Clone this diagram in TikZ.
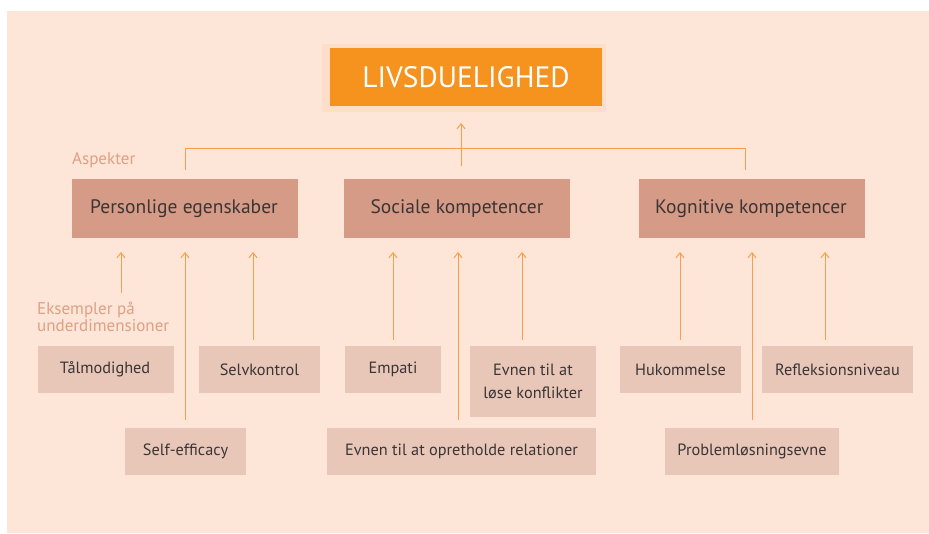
\documentclass[tikz,border=0pt]{standalone}
\usepackage{fontspec}
\setmainfont{PT Sans}
\usetikzlibrary{arrows.meta}
\definecolor{bgpeach}{HTML}{FDE5D8}
\definecolor{titleor}{HTML}{F5931E}
\definecolor{aspbox}{HTML}{D69B86}
\definecolor{subbox}{HTML}{E8C7B9}
\definecolor{lineor}{HTML}{F4A04A}
\definecolor{labcol}{HTML}{DFA084}
\definecolor{txtcol}{HTML}{3A3535}
\tikzset{
  box/.style={inner sep=0pt, outer sep=0pt, text=txtcol, align=center},
  conn/.style={draw=lineor, line width=1pt},
  up/.style={conn, -{Straight Barb[length=5pt,width=8pt,line width=1pt]}},
  lab/.style={text=labcol, anchor=west, inner sep=0pt, font=\fontsize{17}{18}\selectfont, align=left},
}
\begin{document}
\begin{tikzpicture}[x=1pt,y=-1pt]
\useasboundingbox (0,0) rectangle (929,533);
\fill[bgpeach] (7,11) rectangle (929,533);
% title halo
\fill[titleor!8!bgpeach] (322,44) rectangle (606,112);
\fill[titleor] (330,48) rectangle (602,106);
\node[box, text=white, font=\fontsize{29.5}{32}\selectfont] (title) at (466,77) {LIVSDUELIGHED};
% aspect boxes
\tikzset{asp/.style={box, font=\fontsize{19.5}{22}\selectfont}}
\fill[aspbox] (72,179) rectangle (298,238);
\node[asp] (pers) at (184,208.5) {Personlige egenskaber};
\fill[aspbox] (344,179) rectangle (570,238);
\node[asp] (soc) at (457,208.5) {Sociale kompetencer};
\fill[aspbox] (639,179) rectangle (865,238);
\node[asp] (kog) at (751,208.5) {Kognitive kompetencer};
% labels
\node[lab] (asp) at (72,160) {Aspekter};
\node[lab] (eks) at (37,317) {Eksempler på\\[-1pt]underdimensioner};
% sub boxes
\tikzset{sub/.style={box, font=\fontsize{16.3}{23}\selectfont}}
\fill[subbox] (38,346) rectangle (174,393);
\node[sub] (taal) at (105,369.5) {Tålmodighed};
\fill[subbox] (199,346) rectangle (320,393);
\node[sub] (selv) at (259.5,369.5) {Selvkontrol};
\fill[subbox] (125,428) rectangle (246,475);
\node[sub] (self) at (185.5,451.5) {Self-efficacy};
\fill[subbox] (345,346) rectangle (441,393);
\node[sub] (emp) at (393,369.5) {Empati};
\fill[subbox] (470,346) rectangle (596,417);
\node[sub] (los) at (533,381.5) {Evnen til at\\løse konflikter};
\fill[subbox] (327,428) rectangle (596,475);
\node[sub] (opr) at (461.5,451.5) {Evnen til at opretholde relationer};
\fill[subbox] (620,346) rectangle (741,393);
\node[sub] (huk) at (680.5,369.5) {Hukommelse};
\fill[subbox] (762,346) rectangle (913,393);
\node[sub] (ref) at (837.5,369.5) {Refleksionsniveau};
\fill[subbox] (665,428) rectangle (839,475);
\node[sub] (prob) at (752,451.5) {Problemløsningsevne};
% top connectors
\coordinate (h1) at (185,148);
\coordinate (h2) at (745,148);
\coordinate (d1) at (185,170);
\coordinate (d2) at (745,170);
\coordinate (c0) at (461,166);
\coordinate (c1) at (461,123);
\draw[conn] (d1) -- (h1) -- (h2) -- (d2);
\draw[up] (c0) -- (c1);
% sub connectors
\foreach \n/\x/\yb in {a/121/293, b/185/420, c/253/340, d/393/340, e/458/420, f/522/340, g/680/340, h/752/420, i/825/340}{
  \coordinate (s\n) at (\x,\yb);
  \coordinate (t\n) at (\x,252);
  \draw[up] (s\n) -- (t\n);
}
\end{tikzpicture}
\end{document}
